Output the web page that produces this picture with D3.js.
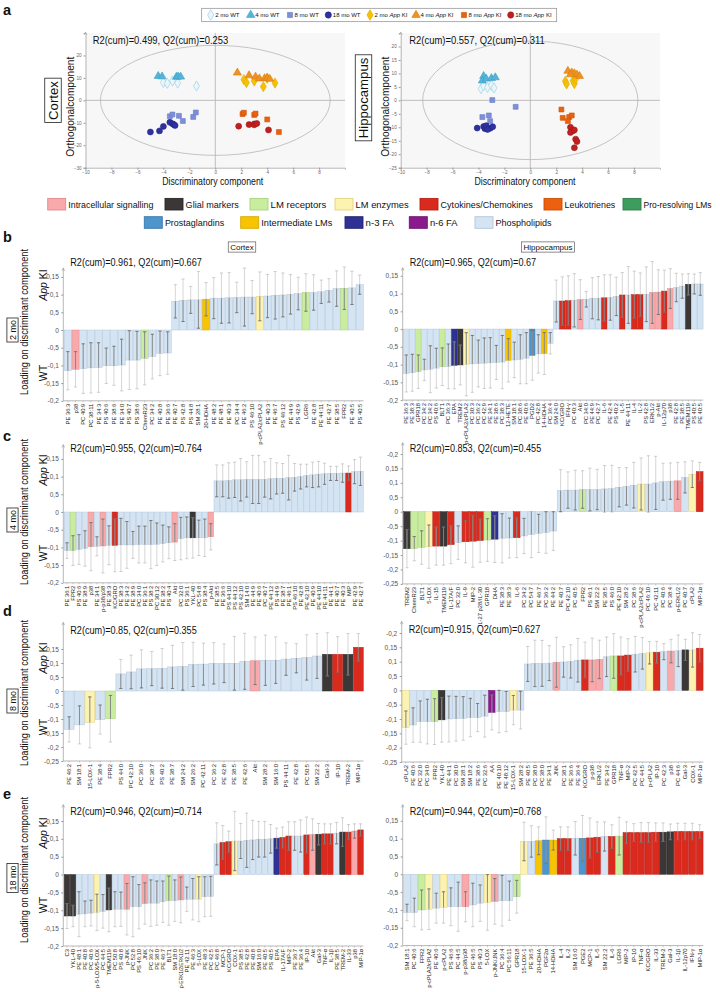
<!DOCTYPE html>
<html><head><meta charset="utf-8">
<script src="https://cdn.jsdelivr.net/npm/d3@7"></script>
<style>body{margin:0;background:#fff;} svg{display:block;}</style>
</head><body><svg id="fig" width="720" height="992"></svg>
<script>
// ---------------- DATA ----------------
// Panel a: OPLS-DA score plots (x = discriminatory, y = orthogonal)
const groupNames = ["2 mo WT","4 mo WT","8 mo WT","18 mo WT","2 mo App KI","4 mo App KI","8 mo App KI","18 mo App KI"];
const cx2WT  = [[-4.0,8.0],[-3.7,7.6],[-3.3,8.6],[-2.9,7.7],[-1.45,6.4]];
const cx4WT  = [[-4.4,10.8],[-4.1,10.6],[-3.0,10.4],[-2.86,10.6],[-2.67,10.5]];
const cx8WT  = [[-3.5,-7.1],[-3.3,-6.3],[-2.8,-6.9],[-2.5,-9.2],[-1.7,-7.4],[-1.5,-5.4]];
const cx18WT = [[-5.0,-14.1],[-4.3,-13.6],[-4.0,-11.6],[-3.5,-9.8],[-3.3,-10.4],[-3.2,-10.8],[-3.1,-11.2]];
const cx2KI  = [[2.2,9.2],[2.4,7.9],[3.0,8.6],[3.7,6.1],[4.0,9.8],[4.6,7.7]];
const cx4KI  = [[1.7,12.3],[2.6,11.1],[3.1,10.5],[3.4,9.7],[3.8,9.8],[4.0,10.0],[4.2,9.5]];
const cx8KI  = [[2.1,-6.1],[2.2,-5.5],[3.0,-6.5],[3.1,-5.9],[4.0,-8.5],[4.9,-14.1]];
const cx18KI = [[1.8,-11.5],[2.6,-10.8],[3.0,-10.5],[3.0,-10.9],[3.2,-10.3],[4.1,-13.2]];
const hc2WT  = [[-3.8,4.3],[-3.6,5.4],[-3.3,4.8],[-3.0,5.6],[-2.8,4.6]];
const hc4WT  = [[-3.6,9.0],[-3.7,7.3],[-3.4,8.0],[-3.0,8.2],[-2.7,8.5]];
const hc8WT  = [[-2.93,0.1],[-1.13,-2.4],[-3.7,-6.2],[-3.2,-5.6],[-3.1,-7.7]];
const hc18WT = [[-4.1,-10.3],[-3.6,-9.7],[-3.5,-10.5],[-3.4,-9.4],[-3.1,-10.4],[-2.9,-9.8],[-3.3,-10.8]];
const hc2KI  = [[2.7,7.1],[2.8,6.1],[3.3,7.3],[3.4,6.2],[3.5,8.0]];
const hc4KI  = [[2.9,10.9],[3.2,10.3],[3.4,10.0],[3.6,9.5],[3.8,9.0],[3.1,9.6]];
const hc8KI  = [[2.4,-3.4],[2.5,-6.5],[3.0,-6.2],[3.2,-5.6],[2.9,-7.7]];
const hc18KI = [[3.1,-10.0],[3.3,-11.3],[3.1,-11.9],[3.5,-14.4],[3.6,-15.3],[3.4,-17.6],[3.4,-11.0]];
const cortexEllipse = [8.85, 24.5];
const hippoEllipse = [8.3, 22.0];
const scatterXTicks = [-10,-8,-6,-4,-2,0,2,4,6,8];
const cortexYTicks = [20,10,0,-10,-20,-30];
const hippoYTicks = [20,15,10,5,0,-5,-10,-15,-20,-25];

// Legend categories
const categoryCodes = ["IS","GM","LR","LE","CC","LT","PR","PG","IM","N3","N6","PL"];
const categoryNames = ["Intracellular signalling","Glial markers","LM receptors","LM enzymes","Cytokines/Chemokines","Leukotrienes","Pro-resolving LMs","Prostaglandins","Intermediate LMs","n-3 FA","n-6 FA","Phospholipids"];
const markerCategory = {
  "p38":"IS","Akt":"IS","p-Akt":"IS","ERK1/2":"IS","p-p38/p38":"IS","p-p38":"IS","JNK":"IS","p-JNK":"IS","p-JNK/JNK":"IS","p-ERK1/2":"IS","p-ERK1/2/ERK1/2":"IS",
  "TREM2":"GM","TREM-2":"GM","TMEM119":"GM","YKL-40":"GM","Gal-3":"GM","C3":"GM",
  "ChemR23":"LR","FPR2":"LR","LGR6":"LR","GPR18":"LR","BLT1":"LR",
  "p-cPLA2/cPLA2":"LE","cPLA2":"LE","p-cPLA2":"LE","5-LOX":"LE","15-LOX-1":"LE","COX-1":"LE","p-5-LOX/5-LOX":"LE",
  "KC/GRO":"CC","IFN-γ":"CC","IL-6":"CC","IL-5":"CC","IL-4":"CC","IL-2":"CC","IL-12p70":"CC","IL-15":"CC","IL-17A/F":"CC","IL-9":"CC","MIP-2":"CC","IL-27 p28/IL-30":"CC","MIP-1α":"CC","MIP":"CC","IP-10":"CC","TNF-α":"CC","MCP-1":"CC","IL-1β":"CC","IL-33":"CC",
  "20-HDHA":"IM","12-HETE":"IM","14-HDHA":"IM",
  "PGD2":"PG","PGF2α":"PG","PGE2":"PG",
  "EPA":"N3","DHA":"N3","AA":"N6"
};

// Tick labels (as printed in the figure)
const ticksA = [0.15,0.1,0.05,0,-0.05,-0.1,-0.15,-0.2];
const tickLabelsA = ["0,15","0,1","0,5","0","-0,5","-0,1","-0,15","-0,2"];
const ticksB = [0.2,0.15,0.1,0.05,0,-0.05,-0.1,-0.15,-0.2,-0.25];
const tickLabelsB = ["-0,2","0,15","0,1","0,5","0","-0,5","-0,1","-0,15","-0,2","-0,25"];
const ticksC = [0.15,0.1,0.05,0,-0.05,-0.1,-0.15,-0.2,-0.25];
const tickLabelsC = ["0,15","0,1","0,5","0","-0,5","-0,1","-0,15","-0,2","-0,25"];

// Panel b: 2 mo
const bCortexLabels = ["PE 36:3","p38","PC 40:9","PC 38:11","PE 34:3","PS 40:6","PE 38:6","PE 34:0","PS 40:7","PS 38:6","ChemR23","PC 34:2","PE 40:8","PE 36:6","PE 40:7","PS 42:8","PS 44:8","SM 28:1","20-HDHA","PE 48:2","PE 48:1","PE 40:3","PC 34:4","PE 46:2","PS 46:10","p-cPLA2/cPLA2","PE 40:3","PE 46:7","PS 46:12","PE 44:9","PS 42:9","LGR6","PE 42:8","PE 44:11","PE 42:7","PE 38:5","FPR2","PE 40:5","PS 40:5"];
const bCortexValues = [-0.115,-0.111,-0.109,-0.107,-0.106,-0.101,-0.101,-0.099,-0.085,-0.085,-0.080,-0.075,-0.066,-0.065,0.081,0.084,0.085,0.085,0.087,0.090,0.090,0.091,0.092,0.093,0.093,0.095,0.096,0.098,0.099,0.101,0.103,0.106,0.106,0.108,0.112,0.117,0.118,0.119,0.128];
const bCortexErr = [0.054,0.05,0.07,0.071,0.07,0.05,0.055,0.073,0.083,0.081,0.075,0.063,0.063,0.06,0.047,0.06,0.038,0.08,0.047,0.058,0.071,0.071,0.043,0.082,0.047,0.069,0.061,0.067,0.062,0.056,0.046,0.053,0.05,0.033,0.033,0.05,0.06,0.047,0.027];
const bHippoLabels = ["PE 36:3","PE 38:3","GPR18","PC 34:2","PC 34:2","PS 40:6","BLT1","PC 36:3","EPA","TREM2","p-cPLA2/cPLA2","PC 30:3","PC 36:2","PC 42:9","PE 34:1","PE 38:6","PC 38:3","12-HETE","SM 18:1","PC 38:6","PE 40:6","PGD2","PC 42:8","14-HDHA","PC 36:4","SM 24:0","KC/GRO","IFN-γ","PC 40:3","Akt","PC 34:0","PE 44:9","PC 42:7","IL-6","PE 42:4","PS 40:2","IL-5","PE 44:11","IL-4","IL-2","PS 42:8","ERK1/2","p-Akt","IL-12p70","p38","PE 42:8","PE 38:5","TMEM119","PS 40:5","PE 40:5"];
const bHippoValues = [-0.125,-0.123,-0.12,-0.115,-0.113,-0.11,-0.106,-0.105,-0.102,-0.101,-0.099,-0.098,-0.097,-0.096,-0.095,-0.094,-0.093,-0.088,-0.087,-0.085,-0.082,-0.074,-0.07,-0.069,-0.04,0.079,0.079,0.08,0.081,0.083,0.084,0.087,0.087,0.088,0.089,0.092,0.096,0.096,0.097,0.097,0.098,0.103,0.104,0.107,0.114,0.117,0.121,0.126,0.127,0.127];
const bHippoErr = [0.052,0.052,0.047,0.03,0.066,0.056,0.053,0.063,0.066,0.056,0.089,0.08,0.066,0.071,0.071,0.048,0.075,0.061,0.05,0.069,0.072,0.07,0.054,0.059,0.03,0.059,0.068,0.07,0.075,0.056,0.022,0.058,0.061,0.065,0.064,0.054,0.063,0.08,0.066,0.061,0.077,0.087,0.063,0.059,0.056,0.04,0.034,0.03,0.028,0.032];

// Panel c: 4 mo
const cCortexLabels = ["PE 36:1","FPR2","PS 40:6","PE 38:9","p38","PE 34:1","p-p38/p38","PE 38:3","KC/GRO","PE 38:3","PE 34:2","PE 38:9","PC 34:0","PE 36:1","PS 38:2","PC 30:12","PE 38:2","PS 40:4","Akt","PC 32:0","PS 36:1","YKL-40","PC 54:8","PS 38:4","p-Akt","PE 38:5","PE 36:6","PS 44:10","PS 44:12","PS 42:10","SM 14:0","PE 44:9","PE 40:6","PC 40:7","PE 44:12","PS 44:9","PE 38:7","PE 46:1","PS 46:10","PE 42:8","PE 42:10","PE 40:9","PE 44:10","PE 44:11","PE 44:1","PE 40:7","PE 40:3","MIP","PE 42:9","PE 42:7"];
const cCortexValues = [-0.109,-0.109,-0.106,-0.103,-0.098,-0.097,-0.096,-0.094,-0.094,-0.093,-0.093,-0.093,-0.092,-0.092,-0.092,-0.091,-0.089,-0.087,-0.085,-0.075,-0.073,-0.073,-0.073,-0.073,-0.07,0.088,0.088,0.089,0.091,0.091,0.092,0.092,0.092,0.092,0.094,0.095,0.095,0.097,0.098,0.1,0.103,0.105,0.107,0.108,0.109,0.109,0.11,0.11,0.114,0.115];
const cCortexErr = [0.022,0.042,0.042,0.05,0.068,0.027,0.076,0.055,0.075,0.075,0.066,0.038,0.052,0.052,0.068,0.06,0.052,0.045,0.052,0.06,0.059,0.057,0.05,0.053,0.037,0.045,0.045,0.05,0.05,0.06,0.05,0.068,0.068,0.05,0.057,0.044,0.042,0.063,0.039,0.035,0.032,0.036,0.036,0.03,0.02,0.02,0.026,0.02,0.034,0.04];
const cHippoLabels = ["TREM2","ChemR23","BLT1","5-LOX","IL-15","TMEM119","IL-17A/F","PC 32:0","IL-9","MIP-2","IL-27 p28/IL-30","GPR18","DHA","PE 38:3","PE 38:3","IL-6","PC 34:2","PC 54:7","PE 46:7","PC 36:2","PE 44:2","PE 40:7","PC 42:10","PC 40:5","FPR2","PS 46:1","SM 22:2","PE 38:5","PS 46:0","PE 42:10","SM 28:2","PC 38:6","p-cPLA2/cPLA2","PC 46:10","PC 42:11","PC 40:6","PC 38:4","p-ERK1/2","PC 40:7","cPLA2","MIP-1α"];
const cHippoValues = [-0.128,-0.128,-0.124,-0.121,-0.119,-0.119,-0.114,-0.107,-0.104,-0.102,-0.1,-0.098,-0.095,-0.092,-0.091,-0.09,-0.084,-0.079,-0.075,-0.072,-0.067,0.073,0.075,0.075,0.077,0.077,0.077,0.079,0.08,0.085,0.088,0.092,0.096,0.096,0.1,0.104,0.106,0.107,0.119,0.13,0.139];
const cHippoErr = [0.066,0.042,0.058,0.075,0.066,0.066,0.066,0.058,0.073,0.09,0.075,0.074,0.081,0.085,0.069,0.069,0.061,0.08,0.066,0.072,0.067,0.073,0.063,0.069,0.065,0.074,0.07,0.081,0.081,0.068,0.065,0.079,0.09,0.098,0.092,0.064,0.063,0.064,0.054,0.046,0.032];

// Panel d: 8 mo
const dCortexLabels = ["PE 46:2","SM 18:1","15-LOX-1","PE 38:4","FPR2","PS 44:0","PC 42:10","PC 36:0","PC 38:7","PS 40:2","PE 38:7","SM 24:2","SM 26:2","PC 42:11","PC 36:2","PE 42:8","PE 38:5","PE 42:6","Akt","SM 28:2","SM 16:0","PS 44:11","PE 42:8","PC 50:5","SM 22:2","Gal-3","IP-10","TREM-2","MIP-1α"];
const dCortexValues = [-0.137,-0.121,-0.112,-0.102,-0.099,0.061,0.068,0.079,0.08,0.081,0.086,0.088,0.095,0.096,0.099,0.099,0.099,0.106,0.108,0.11,0.11,0.114,0.117,0.12,0.125,0.131,0.131,0.131,0.156];
const dCortexErr = [0.045,0.068,0.091,0.052,0.083,0.052,0.06,0.068,0.061,0.071,0.077,0.085,0.079,0.075,0.074,0.069,0.096,0.1,0.085,0.09,0.083,0.058,0.052,0.081,0.08,0.077,0.063,0.074,0.049];
const dHippoLabels = ["cPLA2","PE 40:6","PC 32:0","PC 34:0","FPR2","YKL-40","PE 44:1","PC 30:0","SM 28:1","SM 18:2","PE 38:6","PC 32:6","AA","PE 40:10","PE 48:12","15-LOX-1","SM 28:2","PE 40:5","PC 38:0","PC 38:0","PE 34:1","JNK","PC 38:1","PE 36:6","PE 36:4","KC/GRO","p-p38","ERK1/2","PE 34:2","GPR18","TNF-α","MIP-2","PC 42:5","PC 44:5","p-cPLA2","IP-10","PC 42:3","p38","PC 44:6","Gal-3","COX-1","MIP-1α"];
const dHippoValues = [-0.13,-0.121,-0.109,-0.109,-0.109,-0.103,-0.1,-0.099,-0.098,-0.095,-0.095,-0.09,-0.077,-0.074,-0.074,-0.069,-0.069,0.092,0.094,0.094,0.095,0.098,0.099,0.101,0.105,0.106,0.106,0.108,0.117,0.12,0.12,0.123,0.126,0.129,0.131,0.133,0.135,0.137,0.138,0.141,0.141,0.147];
const dHippoErr = [0.058,0.06,0.072,0.078,0.08,0.078,0.08,0.078,0.076,0.067,0.049,0.073,0.061,0.074,0.07,0.051,0.066,0.061,0.081,0.08,0.061,0.087,0.053,0.058,0.076,0.062,0.076,0.067,0.069,0.078,0.066,0.057,0.062,0.055,0.039,0.038,0.028,0.041,0.055,0.037,0.06,0.048];

// Panel e: 18 mo
const eCortexLabels = ["C3","YKL-40","PE 48:1","PE 40:8","PC 40:6","p-5-LOX/5-LOX","PC 44:5","TMEM119","PC 50:8","PS 40:8","p-JNK","PC 52:8","PS 46:10","JNK","PC 36:2","PE 38:0","PE 46:7","BLT1","SM 18:0","p-ERK1/2/ERK1/2","PE 42:11","PE 46:3","5-LOX","PE 48:3","PC 42:5","PC 46:8","MCP-1","KC/GRO","COX-1","PS 38:5","PE 42:8","PE 40:8","SM 16:0","PE 40:5","PS 40:5","EPA","IL-17A/F","MIP-2","PE 36:7","PE 36:4","IP-10","Akt","Gal-3","TNF-α","IL-1β","PE 38:5","TREM-2","IL-33","p38","MIP-1α"];
const eCortexValues = [-0.116,-0.116,-0.111,-0.11,-0.108,-0.106,-0.103,-0.099,-0.097,-0.097,-0.097,-0.09,-0.09,-0.081,-0.08,-0.08,-0.076,-0.073,-0.073,-0.071,-0.069,-0.069,-0.069,-0.062,-0.061,0.086,0.09,0.092,0.094,0.094,0.096,0.097,0.099,0.099,0.1,0.102,0.104,0.108,0.108,0.108,0.111,0.112,0.113,0.114,0.114,0.116,0.119,0.119,0.122,0.125];
const eCortexErr = [0.035,0.03,0.063,0.036,0.036,0.051,0.047,0.061,0.049,0.048,0.072,0.084,0.062,0.058,0.065,0.062,0.058,0.069,0.058,0.064,0.034,0.058,0.063,0.056,0.056,0.059,0.047,0.03,0.083,0.049,0.076,0.055,0.05,0.05,0.04,0.028,0.029,0.04,0.04,0.045,0.05,0.044,0.03,0.028,0.028,0.03,0.04,0.021,0.02,0.017];
const eHippoLabels = ["SM 18:1","PC 40:6","FPR2","p-cPLA2/cPLA2","PE 40:6","p-cPLA2","PS 46:6","PC 44:5","p-p38/p38","PE 46:5","PS 40:3","5-LOX","p-JNK/JNK","PC 36:4","PC 56:11","GPR18","15-LOX-1","PE 36:5","20-HDHA","PGF2α","14-HDHA","IL-4","IL-2","SM 16:0","PGE2","MCP-1","IL-5","SM 22:2","IL-6","LGR6","MIP-2","IP-10","TNF-α","KC/GRO","IL-33","TREM-2","Gal-3","IL-1β","IL-12p70","IFN-γ","MIP-1α"];
const eHippoValues = [-0.107,-0.107,-0.1,-0.098,-0.095,-0.093,-0.091,-0.091,-0.091,-0.086,-0.081,-0.079,-0.076,-0.074,-0.074,-0.063,0.092,0.092,0.094,0.096,0.096,0.1,0.1,0.101,0.101,0.102,0.104,0.106,0.106,0.107,0.117,0.117,0.117,0.117,0.118,0.118,0.119,0.12,0.12,0.12,0.12];
const eHippoErr = [0.023,0.04,0.056,0.057,0.042,0.044,0.053,0.069,0.042,0.061,0.051,0.078,0.064,0.071,0.055,0.046,0.054,0.044,0.039,0.065,0.028,0.033,0.033,0.047,0.064,0.056,0.043,0.041,0.033,0.053,0.03,0.025,0.028,0.028,0.026,0.026,0.022,0.023,0.023,0.023,0.019];

// ---------------- STYLE ----------------
const FONT = '"Liberation Sans", Arial, Helvetica, sans-serif';
const catFill = {PL:"#d4e4f3",IS:"#f7a9ab",GM:"#3b3737",LR:"#c9ec9f",LE:"#fdf3b1",CC:"#da2a1e",LT:"#ec600e",PR:"#3f9c5f",PG:"#4e95cd",IM:"#f8c300",N3:"#2f3294",N6:"#8b1b8c"};
const catStroke = {PL:"#b2c6da",IS:"#e48a8c",GM:"#2a2626",LR:"#a6d27c",LE:"#e3d27c",CC:"#b81f16",LT:"#c94f08",PR:"#2f7d4b",PG:"#3a78ab",IM:"#d9a900",N3:"#22246f",N6:"#6e136f"};
const groupStyle = [
  {sym:d3.symbolDiamond, fill:"#eaf6fa", stroke:"#8ecbe0", size:30},
  {sym:d3.symbolTriangle, fill:"#55b4d8", stroke:"#3f9fc6", size:28},
  {sym:d3.symbolSquare, fill:"#7c8fd8", stroke:"#6a7cc8", size:24},
  {sym:d3.symbolCircle, fill:"#2e31a0", stroke:"#23268a", size:28},
  {sym:d3.symbolDiamond, fill:"#f6c200", stroke:"#e0a800", size:30},
  {sym:d3.symbolTriangle, fill:"#f0921e", stroke:"#d87d10", size:28},
  {sym:d3.symbolSquare, fill:"#e9620e", stroke:"#cf5208", size:24},
  {sym:d3.symbolCircle, fill:"#c0201f", stroke:"#a01818", size:28}
];
const catOf = l => markerCategory[l] || "PL";

const svg = d3.select("#fig").attr("font-family", FONT);
svg.append("rect").attr("width",720).attr("height",992).attr("fill","#fff");

function txt(g, s, x, y, size, opts={}) {
  const t = g.append("text").attr("x",x).attr("y",y).attr("font-size",size).attr("fill",opts.fill||"#111")
    .attr("text-anchor",opts.anchor||"start");
  if (opts.weight) t.attr("font-weight",opts.weight);
  if (opts.baseline) t.attr("dominant-baseline",opts.baseline);
  t.text(s);
  if (opts.len) t.attr("textLength",opts.len).attr("lengthAdjust","spacingAndGlyphs");
  return t;
}
function appText(g, prefix, x, y, size, opts={}) {
  const t = g.append("text").attr("x",x).attr("y",y).attr("font-size",size).attr("fill",opts.fill||"#111")
    .attr("text-anchor",opts.anchor||"start");
  if (prefix) t.append("tspan").text(prefix);
  t.append("tspan").attr("font-style","italic").text("App");
  t.append("tspan").text(" KI");
  return t;
}
function boxedRotated(s, cx, cy, size, pad, len) {
  const g = svg.append("g").attr("transform",`translate(${cx},${cy}) rotate(-90)`);
  const t = g.append("text").attr("x",0).attr("y",0).attr("font-size",size).attr("text-anchor","middle")
    .attr("dominant-baseline","central").attr("fill","#111").text(s);
  if (len) t.attr("textLength",len).attr("lengthAdjust","spacingAndGlyphs");
  const b = t.node().getBBox();
  g.insert("rect","text").attr("x",b.x-pad).attr("y",b.y-pad*0.3).attr("width",b.width+2*pad).attr("height",b.height+pad*0.6)
    .attr("fill","#fff").attr("stroke","#222").attr("stroke-width",0.8);
}
function boxed(s, cx, cy, size, pad) {
  const g = svg.append("g");
  const t = g.append("text").attr("x",cx).attr("y",cy).attr("font-size",size).attr("text-anchor","middle")
    .attr("dominant-baseline","central").attr("fill","#111").text(s);
  const b = t.node().getBBox();
  g.insert("rect","text").attr("x",b.x-pad).attr("y",b.y-pad*0.3).attr("width",b.width+2*pad).attr("height",b.height+pad*0.6)
    .attr("fill","#fff").attr("stroke","#444").attr("stroke-width",0.6);
}

// panel letters
[["a",3,15],["b",3,242],["c",3,441],["d",3,616],["e",3,799]].forEach(([l,x,y]) => txt(svg,l,x,y,14.5,{weight:"bold"}));

// ---------------- Top legend ----------------
{
  const g = svg.append("g");
  g.append("rect").attr("x",201.7).attr("y",8.3).attr("width",355).attr("height",13.4).attr("fill","#fff").attr("stroke","#8a8a8a").attr("stroke-width",0.7);
  const lx = [210.7,250.7,290,328.3,370,416,464,510.7];
  groupNames.forEach((nm,i) => {
    const st = groupStyle[i];
    g.append("path").attr("d", d3.symbol().type(st.sym).size(st.size*1.1)()).attr("transform",`translate(${lx[i]},15)`)
      .attr("fill",st.fill).attr("stroke",st.stroke).attr("stroke-width",0.6);
    if (nm.includes("App")) appText(g, nm.replace("App KI",""), lx[i]+4.5, 17.2, 6);
    else txt(g, nm, lx[i]+4.5, 17.2, 6);
  });
}

// ---------------- Scatter plots ----------------
function scatter(o) {
  const g = svg.append("g");
  const x = d3.scaleLinear().domain([-10,10]).range([o.xl,o.xr]);
  const y = d3.scaleLinear().domain(o.yDom).range([o.yb,o.yt]);
  g.append("rect").attr("x",x(-10)).attr("y",y(o.yDom[1])).attr("width",x(10)-x(-10)).attr("height",y(o.yDom[0])-y(o.yDom[1])).attr("fill","#f7f7f7");
  g.append("ellipse").attr("cx",x(0)).attr("cy",y(0)).attr("rx",x(o.ell[0])-x(0)).attr("ry",y(0)-y(o.ell[1]))
    .attr("fill","none").attr("stroke","#bdbdbd").attr("stroke-width",0.9);
  g.append("line").attr("x1",x(-10)).attr("x2",x(10)).attr("y1",y(0)).attr("y2",y(0)).attr("stroke","#b0b0b0").attr("stroke-width",0.8);
  g.append("line").attr("x1",x(0)).attr("x2",x(0)).attr("y1",y(o.yDom[0])).attr("y2",y(o.yDom[1])).attr("stroke","#b0b0b0").attr("stroke-width",0.8);
  const ay = g.append("g").attr("transform",`translate(${x(-10)},0)`).call(d3.axisLeft(y).tickValues(o.yTicks).tickSize(2).tickPadding(2));
  const ax = g.append("g").attr("transform",`translate(0,${y(o.yDom[0])})`).call(d3.axisBottom(x).tickValues(scatterXTicks).tickSize(2).tickPadding(1.5));
  [ay,ax].forEach(a => { a.select(".domain").attr("stroke","#999").attr("stroke-width",0.7); a.selectAll("line").attr("stroke","#999");
    a.selectAll("text").attr("font-size",4.6).attr("fill","#666").attr("font-family",FONT); });
  g.append("path").attr("d",`M${x(-10)-1.5},${y(o.yDom[1])+2} L${x(-10)},${y(o.yDom[1])-1} L${x(-10)+1.5},${y(o.yDom[1])+2}`).attr("fill","none").attr("stroke","#999").attr("stroke-width",0.6);
  o.groups.forEach((pts,i) => {
    const st = groupStyle[i];
    g.selectAll(null).data(pts).join("path").attr("d", d3.symbol().type(st.sym).size(st.size)())
      .attr("transform", d => `translate(${x(d[0])},${y(d[1])})`).attr("fill",st.fill).attr("stroke",st.stroke).attr("stroke-width",0.6);
  });
  txt(g, o.r2, o.r2x, 43.5, 10, {len:135.5});
  txt(g, "Discriminatory component", o.discX, 184.5, 10, {anchor:"middle", len:101});
  const gl = g.append("g").attr("transform",`translate(${x(-10)-11.3},${y(0)+6.4}) rotate(-90)`);
  txt(gl, "Orthogonalcomponent", 0, 0, 10, {anchor:"middle", len:100});
  boxedRotated(o.title, o.titleX, o.titleY, 13.2, 2.5);
}
scatter({xl:85.5, xr:345.1, yDom:[-30,30], yb:167.7, yt:33, ell:cortexEllipse, yTicks:cortexYTicks,
  groups:[cx2WT,cx4WT,cx8WT,cx18WT,cx2KI,cx4KI,cx8KI,cx18KI], r2:"R2(cum)=0.499, Q2(cum)=0.253", r2x:92.7, discX:212.7, title:"Cortex", titleX:53, titleY:100.5});
scatter({xl:400.7, xr:659.9, yDom:[-25,25], yb:167.7, yt:33, ell:hippoEllipse, yTicks:hippoYTicks,
  groups:[hc2WT,hc4WT,hc8WT,hc18WT,hc2KI,hc4KI,hc8KI,hc18KI], r2:"R2(cum)=0.557, Q2(cum)=0.311", r2x:409.3, discX:525, title:"Hippocampus", titleX:363.5, titleY:98});

// ---------------- Category legend ----------------
{
  const g = svg.append("g");
  // [category index, swatch x, text width]
  const row1 = [[0,47.7,85],[1,165,53.3],[2,250,55.7],[3,335,53],[4,420,92.3],[5,544,50.7],[6,623,68]];
  const row2 = [[7,144.3,59.3],[8,240.7,71],[9,345,28.3],[10,409.3,27.6],[11,475,56]];
  const put = (list, yc) => list.forEach(([i,x,w]) => {
    const c = categoryCodes[i];
    g.append("rect").attr("x",x).attr("y",yc-5.8).attr("width",18).attr("height",11.6).attr("fill",catFill[c]).attr("stroke",catStroke[c]).attr("stroke-width",0.9);
    txt(g, categoryNames[i], x+20.6, yc+3.3, c === "PR" ? 8.4 : 9, {len:w});
  });
  put(row1, 204.2);
  put(row2, 222.5);
}
boxed("Cortex", 242, 247, 8, 2);
boxed("Hippocampus", 548, 247, 8, 2);

// ---------------- Bar charts ----------------
function barChart(c) {
  const g = svg.append("g");
  const n = c.labels.length;
  const x = d3.scaleBand().domain(d3.range(n)).range([c.x0, c.x1]).padding(0);
  const lo = c.ticks[c.ticks.length-1], hi = c.ticks[0];
  const y = d3.scaleLinear().domain([lo, hi]).range([c.yb, c.yt]);
  g.selectAll(null).data(c.values).join("rect")
    .attr("x",(d,i)=>x(i)+0.25).attr("width",x.bandwidth()-0.5)
    .attr("y",d=>y(Math.max(0,d))).attr("height",d=>Math.abs(y(d)-y(0)))
    .attr("fill",(d,i)=>catFill[catOf(c.labels[i])]).attr("stroke",(d,i)=>catStroke[catOf(c.labels[i])]).attr("stroke-width",0.5);
  c.values.forEach((v,i) => {
    const e = c.errs[i], cx = x(i)+x.bandwidth()/2;
    const a = v-e, b = v+e;
    const eg = g.append("g");
    eg.append("line").attr("x1",cx).attr("x2",cx).attr("y1",y(a)).attr("y2",y(b)).attr("stroke","#c4c4c4").attr("stroke-width",0.7);
    [a,b].forEach(t => eg.append("line").attr("x1",cx-1.6).attr("x2",cx+1.6).attr("y1",y(t)).attr("y2",y(t)).attr("stroke","#b0b0b0").attr("stroke-width",0.6));
    const in0 = Math.max(Math.min(0,v), a), in1 = Math.min(Math.max(0,v), b);
    if (in1 > in0) eg.append("line").attr("x1",cx).attr("x2",cx).attr("y1",y(in0)).attr("y2",y(in1)).attr("stroke","#6e6e6e").attr("stroke-width",0.7);
    [a,b].forEach(t => { if (t>=Math.min(0,v) && t<=Math.max(0,v)) eg.append("line").attr("x1",cx-1.6).attr("x2",cx+1.6).attr("y1",y(t)).attr("y2",y(t)).attr("stroke","#555").attr("stroke-width",0.6); });
  });
  const ay = g.append("g").attr("transform",`translate(${c.axisX},0)`)
    .call(d3.axisLeft(y).tickValues(c.ticks).tickFormat((d,i)=>c.tickLabels[i]).tickSize(2).tickPadding(2.5));
  ay.select(".domain").remove();
  ay.selectAll("line").attr("stroke","#999");
  ay.selectAll("text").attr("font-size",6.5).attr("fill","#555").attr("font-family",FONT);
  g.append("line").attr("x1",c.axisX).attr("x2",c.axisX).attr("y1",y(lo)).attr("y2",c.arrowTop).attr("stroke","#999").attr("stroke-width",0.7);
  g.append("path").attr("d",`M${c.axisX-1.3},${c.arrowTop+2.5} L${c.axisX},${c.arrowTop-0.5} L${c.axisX+1.3},${c.arrowTop+2.5}`).attr("fill","none").attr("stroke","#999").attr("stroke-width",0.6);
  g.append("line").attr("x1",c.axisX).attr("x2",c.x1).attr("y1",y(lo)).attr("y2",y(lo)).attr("stroke","#999").attr("stroke-width",0.7);
  g.selectAll(null).data(d3.range(n)).join("line").attr("x1",i=>x(i)+x.bandwidth()/2).attr("x2",i=>x(i)+x.bandwidth()/2)
    .attr("y1",y(lo)).attr("y2",y(lo)+1.5).attr("stroke","#999").attr("stroke-width",0.5);
  const maxLen = c.labelRoom || 60;
  g.selectAll(null).data(c.labels).join("text")
    .attr("transform",(d,i)=>`translate(${x(i)+x.bandwidth()/2+2},${y(lo)+3}) rotate(-90)`)
    .attr("text-anchor","end").attr("font-size",5.8).attr("fill","#222").text(d=>d)
    .each(function(){ const w = this.getComputedTextLength(); if (w > maxLen) d3.select(this).attr("textLength",maxLen).attr("lengthAdjust","spacingAndGlyphs"); });
  const r = txt(g, c.r2, c.axisX+7, c.r2y, 10);
  r.attr("textLength", r.node().getComputedTextLength()*0.91).attr("lengthAdjust","spacingAndGlyphs");
}
function rowLabels(title, midY, appY, wtY) {
  boxedRotated(title, 12.5, midY+8, 9, 2);
  const g1 = svg.append("g").attr("transform",`translate(28,${midY}) rotate(-90)`);
  txt(g1, "Loading on discriminant component", 0, 0, 10.5, {anchor:"middle", len:146});
  const g2 = svg.append("g").attr("transform",`translate(47,${appY}) rotate(-90)`);
  appText(g2, "", 0, 0, 10.5, {anchor:"middle"});
  const g3 = svg.append("g").attr("transform",`translate(47,${wtY}) rotate(-90)`);
  txt(g3, "WT", 0, 0, 10.5, {anchor:"middle"});
}

barChart({labels:bCortexLabels, values:bCortexValues, errs:bCortexErr, x0:64, x1:363.5, axisX:63.3, ticks:ticksA, tickLabels:tickLabelsA, yb:400.8, yt:276.9, arrowTop:268.3, r2:"R2(cum)=0.961, Q2(cum)=0.667", r2y:265.5});
barChart({labels:bHippoLabels, values:bHippoValues, errs:bHippoErr, x0:403.3, x1:703.3, axisX:402.7, ticks:ticksA, tickLabels:tickLabelsA, yb:400.1, yt:275.8, arrowTop:268, r2:"R2(cum)=0.965, Q2(cum)=0.67", r2y:266});
rowLabels("2 mo", 322, 285, 373);
barChart({labels:cCortexLabels, values:cCortexValues, errs:cCortexErr, x0:64, x1:363.5, axisX:63.3, ticks:ticksA, tickLabels:tickLabelsA, yb:582.8, yt:458.9, arrowTop:445, r2:"R2(cum)=0.955, Q2(cum)=0.764", r2y:452});
barChart({labels:cHippoLabels, values:cHippoValues, errs:cHippoErr, x0:403.3, x1:703.3, axisX:402.7, ticks:ticksB, tickLabels:tickLabelsB, yb:583.9, yt:454, arrowTop:443, r2:"R2(cum)=0.853, Q2(cum)=0.455", r2y:452});
rowLabels("4 mo", 512, 470, 553);
barChart({labels:dCortexLabels, values:dCortexValues, errs:dCortexErr, x0:64, x1:363.5, axisX:63.3, ticks:ticksC, tickLabels:tickLabelsC, yb:761, yt:649, arrowTop:622.7, r2:"R2(cum)=0.85, Q2(cum)=0.355", r2y:633.5});
barChart({labels:dHippoLabels, values:dHippoValues, errs:dHippoErr, x0:402.3, x1:703.3, axisX:401.7, ticks:ticksB, tickLabels:tickLabelsB, yb:762, yt:633, arrowTop:621.7, r2:"R2(cum)=0.915, Q2(cum)=0.627", r2y:633});
rowLabels("8 mo", 693, 658, 727);
barChart({labels:eCortexLabels, values:eCortexValues, errs:eCortexErr, x0:64, x1:363.5, axisX:63.3, ticks:ticksA, tickLabels:tickLabelsA, yb:946, yt:821, arrowTop:805, r2:"R2(cum)=0.946, Q2(cum)=0.714", r2y:815, labelRoom:39});
barChart({labels:eHippoLabels, values:eHippoValues, errs:eHippoErr, x0:403.3, x1:703.3, axisX:402.7, ticks:ticksA, tickLabels:tickLabelsA, yb:945.6, yt:820.8, arrowTop:805, r2:"R2(cum)=0.944, Q2(cum)=0.768", r2y:815, labelRoom:39});
rowLabels("18 mo", 870, 833, 905);
</script></body></html>
